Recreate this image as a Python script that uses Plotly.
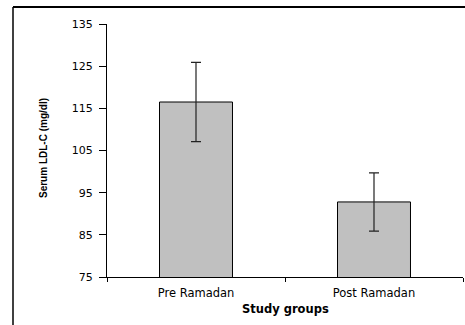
import plotly.graph_objects as go

groups = ["Pre Ramadan", "Post Ramadan"]
ldl_mean = [116.5, 92.8]
ldl_err = [9.4, 6.9]
y_ticks = [75, 85, 95, 105, 115, 125, 135]

fig = go.Figure()
fig.add_trace(go.Bar(
    x=groups, y=ldl_mean,
    width=0.41,
    marker=dict(color="#C0C0C0", line=dict(color="black", width=1)),
    error_y=dict(type="data", array=ldl_err, visible=True, color="#222222", thickness=1.2, width=5),
))

W, H = 465, 325
L, R, T, B = 107, 2, 24, 48
pw, ph = W - L - R, H - T - B

def px(x):
    return (x - L) / pw

def py(y):
    return (H - B - y) / ph

fig.update_layout(
    width=W, height=H,
    margin=dict(l=L, r=R, t=T, b=B),
    paper_bgcolor="white", plot_bgcolor="white",
    showlegend=False,
    font=dict(family="DejaVu Sans", color="black"),
    xaxis=dict(
        showline=True, linecolor="black", linewidth=1,
        ticks="outside", tickson="boundaries", ticklen=4, tickcolor="black",
        tickfont=dict(family="DejaVu Sans", size=11.5),
        ticklabelstandoff=5,
        showgrid=False, zeroline=False,
    ),
    yaxis=dict(
        range=[75, 135], tickvals=y_ticks, showline=True, linecolor="black", linewidth=1,
        ticks="outside", ticklen=7, tickcolor="black",
        tickfont=dict(family="DejaVu Sans", size=11),
        ticklabelstandoff=4,
        showgrid=False, zeroline=False,
    ),
    annotations=[
        dict(text="<b>Study groups</b>", x=px(285), y=py(309), xref="paper", yref="paper",
             showarrow=False, font=dict(family="DejaVu Sans", size=11.5), xanchor="center", yanchor="middle"),
        dict(text="<b>Serum LDL-C (mg/dl)</b>", x=px(43), y=py(148), xref="paper", yref="paper",
             showarrow=False, textangle=-90, font=dict(family="Liberation Sans", size=10),
             xanchor="center", yanchor="middle"),
    ],
    shapes=[
        dict(type="line", xref="paper", yref="paper", x0=px(13), x1=px(465), y0=py(7), y1=py(7),
             line=dict(color="black", width=2)),
        dict(type="line", xref="paper", yref="paper", x0=px(13), x1=px(13), y0=py(7), y1=py(325),
             line=dict(color="black", width=1.5)),
    ],
)

fig.write_html("out.html", config={"displayModeBar": False},
               post_script="document.body.style.margin='0';document.body.style.overflow='hidden';")
